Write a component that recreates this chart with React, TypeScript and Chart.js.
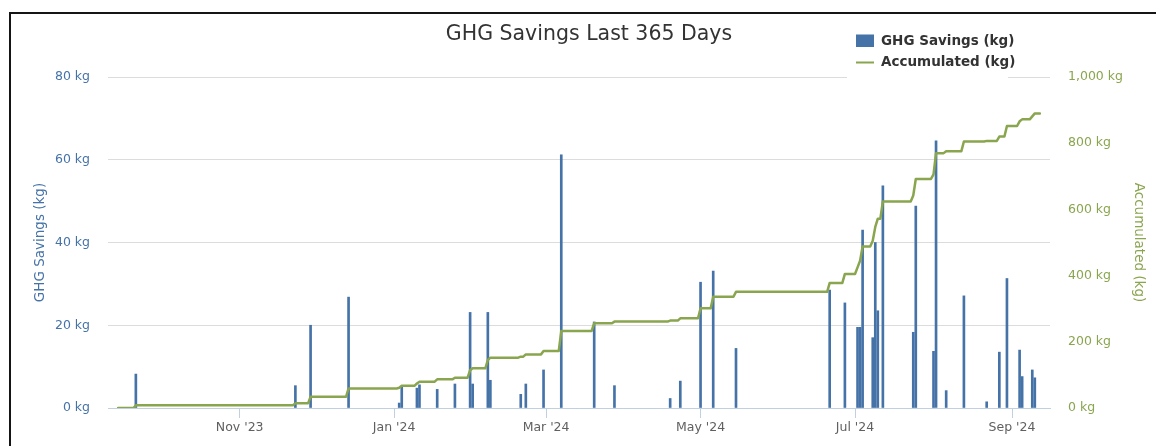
import React, { useEffect, useRef } from "react";
import { Chart, registerables } from "chart.js";

Chart.register(...registerables);

const TITLE = "GHG Savings Last 365 Days";
const BAR_SERIES = "GHG Savings (kg)";
const LINE_SERIES = "Accumulated (kg)";
const LEFT_AXIS_TITLE = "GHG Savings (kg)";
const RIGHT_AXIS_TITLE = "Accumulated (kg)";

const axisStart = "2023-09-10";
const axisEnd = "2024-09-16";
const lineStart = "2023-09-14";
const lineEnd = "2024-09-12";

const tickDates = ["2023-11-01", "2024-01-01", "2024-03-01", "2024-05-01", "2024-07-01", "2024-09-01"];
const tickLabels = ["Nov '23", "Jan '24", "Mar '24", "May '24", "Jul '24", "Sep '24"];

const savingDates = [
  "2023-09-21", "2023-11-23", "2023-11-29", "2023-12-14",
  "2024-01-03", "2024-01-04", "2024-01-10", "2024-01-11", "2024-01-18", "2024-01-25",
  "2024-01-31", "2024-02-01", "2024-02-07", "2024-02-08", "2024-02-20", "2024-02-22", "2024-02-29",
  "2024-03-07", "2024-03-20", "2024-03-28", "2024-04-19", "2024-04-23",
  "2024-05-01", "2024-05-06", "2024-05-15",
  "2024-06-21", "2024-06-27",
  "2024-07-02", "2024-07-03", "2024-07-04", "2024-07-08", "2024-07-09", "2024-07-10", "2024-07-12",
  "2024-07-24", "2024-07-25",
  "2024-08-01", "2024-08-02", "2024-08-06", "2024-08-13", "2024-08-22", "2024-08-27", "2024-08-30",
  "2024-09-04", "2024-09-05", "2024-09-09", "2024-09-10",
];

const ghgSavings = [
  8.2, 5.4, 20.0, 26.8,
  1.2, 5.2, 4.8, 5.6, 4.5, 5.8,
  23.1, 5.8, 23.1, 6.7, 3.3, 5.8, 9.2,
  61.2, 20.8, 5.4, 2.3, 6.5,
  30.4, 33.1, 14.4,
  28.5, 25.4,
  19.5, 19.5, 43.0, 17.0, 40.0, 23.5, 53.7,
  18.3, 48.8,
  13.7, 64.6, 4.2, 27.1, 1.5, 13.5, 31.3,
  14.0, 7.6, 9.2, 7.3,
];

const accumulated = [
  8, 14, 34, 59,
  61, 67, 74, 79.5, 86.5, 91.5,
  114, 120, 145, 152, 155, 162, 172,
  233, 256, 261, 264, 271,
  301, 336, 351,
  378, 405,
  425, 445, 488, 505, 547, 572, 624,
  642, 692,
  706, 770, 776, 805, 807, 820, 852,
  866, 872, 881, 890,
];

const leftMax = 80;
const leftStep = 20;
const rightMax = 1000;
const rightStep = 200;

const BLUE = "#4572A7";
const GREEN = "#89A54E";
const AXIS_LINE = "#C0D0E0";
const GRID = "#DCDCDC";
const FONT = "'DejaVu Sans', Verdana, sans-serif";

const ORIGIN = Date.UTC(2024, 0, 1);
const toDay = (s: string) => Math.round((Date.parse(s) - ORIGIN) / 86400000);
const fmtThousands = (v: number) => String(v).replace(/\B(?=(\d{3})+(?!\d))/g, ",");

function buildLine() {
  const pts: { x: number; y: number }[] = [];
  let prevDay = toDay(lineStart);
  let prevVal = 0;
  pts.push({ x: prevDay, y: prevVal });
  savingDates.forEach((s, i) => {
    const d = toDay(s);
    if (d - 1 > prevDay) pts.push({ x: d - 1, y: prevVal });
    pts.push({ x: d, y: accumulated[i] });
    prevDay = d;
    prevVal = accumulated[i];
  });
  pts.push({ x: toDay(lineEnd), y: prevVal });
  return pts;
}

const overlayPlugin = {
  id: "overlay",
  afterDraw(chart: any) {
    const ctx = chart.ctx as CanvasRenderingContext2D;
    ctx.save();
    ctx.fillStyle = "#333333";
    ctx.font = `20.5px ${FONT}`;
    ctx.textAlign = "center";
    ctx.textBaseline = "middle";
    ctx.fillText(TITLE, 589, 35);

    ctx.fillStyle = "#ffffff";
    ctx.fillRect(847, 27, 161, 53);

    ctx.fillStyle = BLUE;
    ctx.fillRect(856, 34.5, 18, 12.5);
    ctx.strokeStyle = GREEN;
    ctx.lineWidth = 2;
    ctx.beginPath();
    ctx.moveTo(856, 62.5);
    ctx.lineTo(874, 62.5);
    ctx.stroke();

    ctx.fillStyle = "#333333";
    ctx.font = `bold 13.5px ${FONT}`;
    ctx.textAlign = "left";
    ctx.textBaseline = "middle";
    ctx.fillText(BAR_SERIES, 881, 41.5);
    ctx.fillText(LINE_SERIES, 881, 62.5);
    ctx.restore();
  },
};

export default function App() {
  const ref = useRef<HTMLCanvasElement | null>(null);

  useEffect(() => {
    if (!ref.current) return;
    Chart.defaults.font.family = FONT;
    const barPoints = savingDates.map((s, i) => ({ x: toDay(s), y: ghgSavings[i] }));
    const linePoints = buildLine();
    const tickDays = tickDates.map(toDay);

    const chart = new Chart(ref.current, {
      type: "bar",
      data: {
        datasets: [
          {
            type: "line",
            label: LINE_SERIES,
            data: linePoints,
            yAxisID: "y1",
            borderColor: GREEN,
            backgroundColor: GREEN,
            borderWidth: 2.5,
            pointRadius: 0,
            tension: 0,
            borderJoinStyle: "round",
            borderCapStyle: "round",
            order: 0,
          } as any,
          {
            type: "bar",
            label: BAR_SERIES,
            data: barPoints,
            yAxisID: "y",
            backgroundColor: BLUE,
            barThickness: 2,
            order: 1,
          } as any,
        ],
      },
      options: {
        responsive: false,
        animation: false,
        devicePixelRatio: 1,
        layout: { padding: { left: 24, right: 8, top: 77, bottom: 0 } },
        plugins: {
          legend: { display: false },
          title: { display: false },
          tooltip: { enabled: false },
        },
        scales: {
          x: {
            type: "linear",
            min: toDay(axisStart),
            max: toDay(axisEnd),
            offset: false,
            grid: {
              display: true,
              drawOnChartArea: false,
              drawTicks: true,
              tickLength: 10,
              color: AXIS_LINE,
              offset: false,
            },
            border: { display: true, color: AXIS_LINE, width: 1 },
            ticks: {
              autoSkip: false,
              maxRotation: 0,
              padding: 2.5,
              color: "#606060",
              font: { size: 12.5, family: FONT },
              callback: (_v: any, i: number) => tickLabels[i] ?? "",
            },
            afterBuildTicks: (s: any) => {
              s.ticks = tickDays.map((v) => ({ value: v }));
            },
            afterFit: (s: any) => {
              s.height = 38;
            },
          } as any,
          y: {
            position: "left",
            min: 0,
            max: leftMax,
            ticks: {
              stepSize: leftStep,
              padding: 18,
              color: BLUE,
              font: { size: 12.5, family: FONT },
              callback: (v: any) => `${v} kg`,
            },
            grid: { color: GRID, drawTicks: false, lineWidth: 1 },
            border: { display: false },
            title: {
              display: true,
              text: LEFT_AXIS_TITLE,
              color: BLUE,
              font: { size: 13.5, family: FONT },
              padding: { top: 8, bottom: 0 },
            },
            afterFit: (s: any) => {
              s.width = 84;
            },
          } as any,
          y1: {
            position: "right",
            min: 0,
            max: rightMax,
            ticks: {
              stepSize: rightStep,
              padding: 18,
              color: GREEN,
              font: { size: 12.5, family: FONT },
              callback: (v: any) => `${fmtThousands(v)} kg`,
            },
            grid: { drawOnChartArea: false, drawTicks: false },
            border: { display: false },
            title: {
              display: true,
              text: RIGHT_AXIS_TITLE,
              color: GREEN,
              font: { size: 13.5, family: FONT },
              padding: { top: 1, bottom: 0 },
            },
            afterFit: (s: any) => {
              s.width = 98;
            },
          } as any,
        },
      },
      plugins: [overlayPlugin],
    });
    return () => chart.destroy();
  }, []);

  return (
    <div
      style={{
        position: "absolute",
        left: 0,
        top: 0,
        width: 1156,
        height: 446,
        overflow: "hidden",
        background: "#ffffff",
      }}
    >
      <div
        style={{
          position: "absolute",
          left: 9,
          top: 12,
          width: 1400,
          height: 700,
          borderTop: "2px solid #151515",
          borderLeft: "2px solid #151515",
        }}
      />
      <canvas
        ref={ref}
        width={1156}
        height={446}
        style={{ position: "absolute", left: 0, top: 0, width: 1156, height: 446 }}
      />
    </div>
  );
}
